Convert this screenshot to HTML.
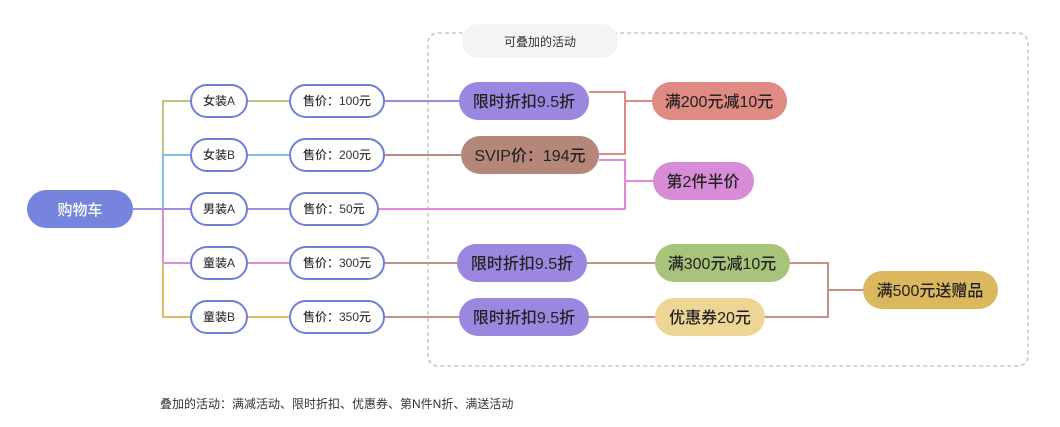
<!DOCTYPE html>
<html><head><meta charset="utf-8"><style>
body{margin:0;background:#fff;}
svg text{font-family:"Liberation Sans","Noto Sans CJK SC",sans-serif;}
</style></head><body>
<svg width="1060" height="422" viewBox="0 0 1060 422" xmlns="http://www.w3.org/2000/svg">
<rect x="428" y="33" width="600" height="333" rx="10" fill="none" stroke="#bdbdbd" stroke-width="1.3" stroke-dasharray="4,3"/>
<rect x="462" y="24" width="156" height="34" rx="17" fill="#f4f4f4"/>
<text x="540" y="46" font-size="12" text-anchor="middle" fill="#333">可叠加的活动</text>
<g fill="none" stroke-width="2">
<path d="M133 209H163" stroke="#a08ee0"/>
<path d="M163 155V101H191" stroke="#b5cc7e"/>
<path d="M163 209V155H191" stroke="#7ec0ea"/>
<path d="M163 209H191" stroke="#a08ee0"/>
<path d="M163 209V263H191" stroke="#e28ad6"/>
<path d="M163 263V317H191" stroke="#ebb768"/>
<path d="M247 101H290" stroke="#b5cc7e"/>
<path d="M247 155H290" stroke="#7ec0ea"/>
<path d="M247 209H290" stroke="#a08ee0"/>
<path d="M247 263H290" stroke="#e28ad6"/>
<path d="M247 317H290" stroke="#ebb768"/>
<path d="M384 101H459" stroke="#9d8ae0"/>
<path d="M384 155H461" stroke="#b88a7c"/>
<path d="M378 209H625V160H599" stroke="#e28ad6"/>
<path d="M625 181H653" stroke="#e28ad6"/>
<path d="M589 92H625V154H599" stroke="#e08a84"/>
<path d="M625 101H652" stroke="#e08a84"/>
<path d="M384 263H457" stroke="#c49184"/>
<path d="M384 317H459" stroke="#c49184"/>
<path d="M587 263H655" stroke="#c49184"/>
<path d="M589 317H655" stroke="#c49184"/>
<path d="M790 263H828V317H765" stroke="#c49184"/>
<path d="M828 290H863" stroke="#c49184"/>
</g>
<rect x="27" y="190" width="106" height="38" rx="19" fill="#7584dc"/>
<text x="80" y="215" font-size="15" text-anchor="middle" fill="#fff" font-weight="500">购物车</text>
<g fill="#fff" stroke="#6f7fd8" stroke-width="2">
<rect x="191" y="85" width="56" height="32" rx="16"/>
<rect x="191" y="139" width="56" height="32" rx="16"/>
<rect x="191" y="193" width="56" height="32" rx="16"/>
<rect x="191" y="247" width="56" height="32" rx="16"/>
<rect x="191" y="301" width="56" height="32" rx="16"/>
<rect x="290" y="85" width="94" height="32" rx="16"/>
<rect x="290" y="139" width="94" height="32" rx="16"/>
<rect x="290" y="193" width="88" height="32" rx="16"/>
<rect x="290" y="247" width="94" height="32" rx="16"/>
<rect x="290" y="301" width="94" height="32" rx="16"/>
</g>
<g font-size="12" fill="#333" text-anchor="middle" font-weight="500">
<text x="219" y="105">女装A</text><text x="219" y="159">女装B</text><text x="219" y="213">男装A</text><text x="219" y="267">童装A</text><text x="219" y="321">童装B</text>
<text x="337" y="105">售价：100元</text><text x="337" y="159">售价：200元</text><text x="334" y="213">售价：50元</text><text x="337" y="267">售价：300元</text><text x="337" y="321">售价：350元</text>
</g>
<rect x="459" y="82" width="130" height="38" rx="19" fill="#9b87e0"/>
<rect x="461" y="136" width="138" height="38" rx="19" fill="#b5867a"/>
<rect x="652" y="82" width="135" height="38" rx="19" fill="#e08a84"/>
<rect x="653" y="162" width="101" height="38" rx="19" fill="#d88bd6"/>
<rect x="457" y="244" width="130" height="38" rx="19" fill="#9b87e0"/>
<rect x="459" y="298" width="130" height="38" rx="19" fill="#9b87e0"/>
<rect x="655" y="244" width="135" height="38" rx="19" fill="#a8c47a"/>
<rect x="655" y="298" width="110" height="38" rx="19" fill="#ecd595"/>
<rect x="863" y="271" width="135" height="38" rx="19" fill="#dbb85e"/>
<g font-size="16" fill="#222" text-anchor="middle" font-weight="500">
<text x="524" y="107">限时折扣9.5折</text>
<text x="530" y="161">SVIP价：194元</text>
<text x="719" y="107">满200元减10元</text>
<text x="703" y="187">第2件半价</text>
<text x="522" y="269">限时折扣9.5折</text>
<text x="524" y="323">限时折扣9.5折</text>
<text x="722" y="269">满300元减10元</text>
<text x="710" y="323">优惠券20元</text>
<text x="930" y="296">满500元送赠品</text>
</g>
<text x="160" y="408" font-size="12" fill="#333">叠加的活动：满减活动、限时折扣、优惠券、第N件N折、满送活动</text>
</svg>
</body></html>
